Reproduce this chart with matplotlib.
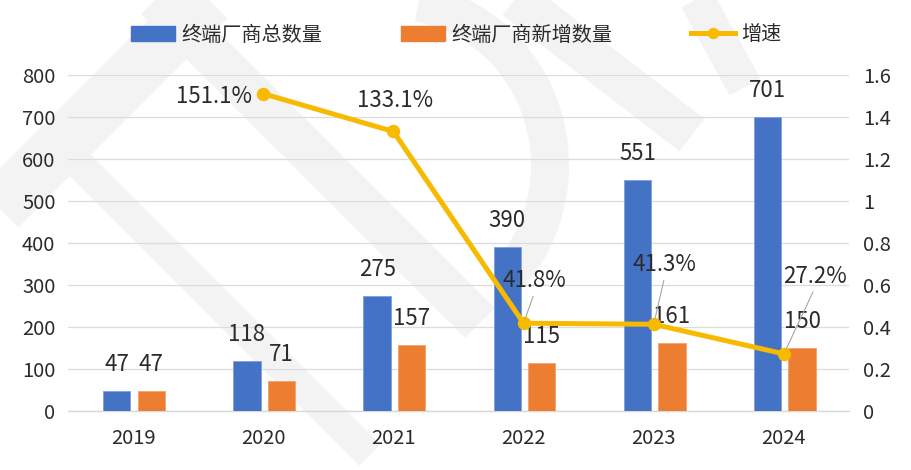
import numpy as np
import matplotlib.pyplot as plt
from matplotlib.lines import Line2D
from matplotlib.patches import Patch, Arc

plt.rcParams['font.family'] = ['Noto Sans CJK SC', 'DejaVu Sans']

# donnees
annees = ['2019', '2020', '2021', '2022', '2023', '2024']
total = [47, 118, 275, 390, 551, 701]          # 终端厂商总数量
nouveaux = [47, 71, 157, 115, 161, 150]        # 终端厂商新增数量
croissance = [np.nan, 1.511, 1.331, 0.418, 0.413, 0.272]   # 增速
etiq_croiss = ['', '151.1%', '133.1%', '41.8%', '41.3%', '27.2%']

PX = 0.72                 # points par pixel (dpi 100)
bleu, orange, jaune = '#4472C4', '#ED7D31', '#F7BA00'
texte = '#2b2b2b'
gris_fond = '#f3f3f3'

fig = plt.figure(figsize=(9.11, 4.70), dpi=100)

# filigrane en fond (coordonnees pixels)
wm = fig.add_axes([0, 0, 1, 1], zorder=-1)
wm.set_xlim(0, 911)
wm.set_ylim(470, 0)
wm.axis('off')
bandes = [((-40, 247), (247, -40), 55),
          ((75, 160), (370, 455), 30),
          ((140, -17), (480, 323), 42),
          ((497, -15), (692, 135), 41),
          ((688, -17), (745, 87), 35)]
for (x0, y0), (x1, y1), w in bandes:
    wm.plot([x0, x1], [y0, y1], color=gris_fond, lw=w*PX, solid_capstyle='butt')
wm.add_patch(Arc((390, 165), 320, 330, theta1=-80, theta2=45,
                 color=gris_fond, lw=38*PX))

# axes principaux
ax = fig.add_axes([68/911, 1 - 411/470, (849 - 68)/911, (411 - 75)/470])
ax.set_facecolor('none')
x = np.arange(len(annees))
largeur = 0.21
ax.bar(x - 0.125, total, largeur, color=bleu, edgecolor='#7f9edb', lw=0.6, zorder=3)
ax.bar(x + 0.14, nouveaux, largeur, color=orange, edgecolor='#f3a16b', lw=0.6, zorder=3)

for xi, v in zip(x - 0.125, total):
    ax.annotate(str(v), (xi, v), xytext=(0, 20*PX), textcoords='offset points',
                ha='center', va='baseline', fontsize=16, color=texte, zorder=5)
for xi, v in zip(x + 0.14, nouveaux):
    ax.annotate(str(v), (xi, v), xytext=(0, 20*PX), textcoords='offset points',
                ha='center', va='baseline', fontsize=16, color=texte, zorder=5)

ax.set_xlim(-0.5, 5.5)
ax.set_ylim(0, 800)
ax.set_yticks(range(0, 801, 100))
ax.set_xticks(x)
ax.set_xticklabels(annees)
ax.yaxis.grid(True, color='#dcdcdc', lw=0.9)
ax.set_axisbelow(True)
for s in ['left', 'right', 'top']:
    ax.spines[s].set_visible(False)
ax.spines['bottom'].set_color('#d9d9d9')
ax.spines['bottom'].set_linewidth(1.0)
ax.tick_params(axis='y', length=0, pad=9, labelsize=14.5, labelcolor=texte)
ax.tick_params(axis='x', length=0, pad=12, labelsize=14.5, labelcolor=texte)

# axe secondaire : croissance
ax2 = ax.twinx()
ax2.set_ylim(0, 1.6)
ticks2 = np.arange(0, 1.61, 0.2)
ax2.set_yticks(ticks2)
ax2.set_yticklabels(['{:g}'.format(round(t, 1)) for t in ticks2])
for s in ax2.spines.values():
    s.set_visible(False)
ax2.tick_params(axis='y', length=0, pad=10, labelsize=14.5, labelcolor=texte)
ax2.plot(x, croissance, color=jaune, lw=5*PX, marker='o', ms=12*PX, zorder=4)

# decalages des etiquettes (pixels) : dx, dy, ha, va, trait de rappel
decal = [None,
         (-11, 0, 'right', 'center_baseline', False),
         (2, 24, 'center', 'baseline', False),
         (11, 36, 'center', 'baseline', True),
         (11, 53, 'center', 'baseline', True),
         (31, 71, 'center', 'baseline', True)]
for xi, v, lab, d in zip(x, croissance, etiq_croiss, decal):
    if d is None:
        continue
    dx, dy, ha, va, trait = d
    props = None
    if trait:
        props = dict(arrowstyle='-', color='#a6a6a6', lw=0.8,
                     shrinkA=1, shrinkB=4, relpos=(0.5, 0))
    ax2.annotate(lab, (xi, v), xytext=(dx*PX, dy*PX), textcoords='offset points',
                 ha=ha, va=va, fontsize=16, color=texte, arrowprops=props, zorder=6)

# legende
poignees = [Patch(color=bleu), Patch(color=orange),
            Line2D([], [], color=jaune, lw=5*PX, marker='o', ms=10*PX)]
noms = ['终端厂商总数量', '终端厂商新增数量', '增速']
fig.legend(poignees, noms, loc='center', bbox_to_anchor=(456/911, 1 - 35/470),
           ncol=3, frameon=False, fontsize=14.5, handlelength=2.2,
           handleheight=0.7, columnspacing=3.9, handletextpad=0.3,
           labelcolor=texte)

fig.savefig('out.png', dpi=100)
